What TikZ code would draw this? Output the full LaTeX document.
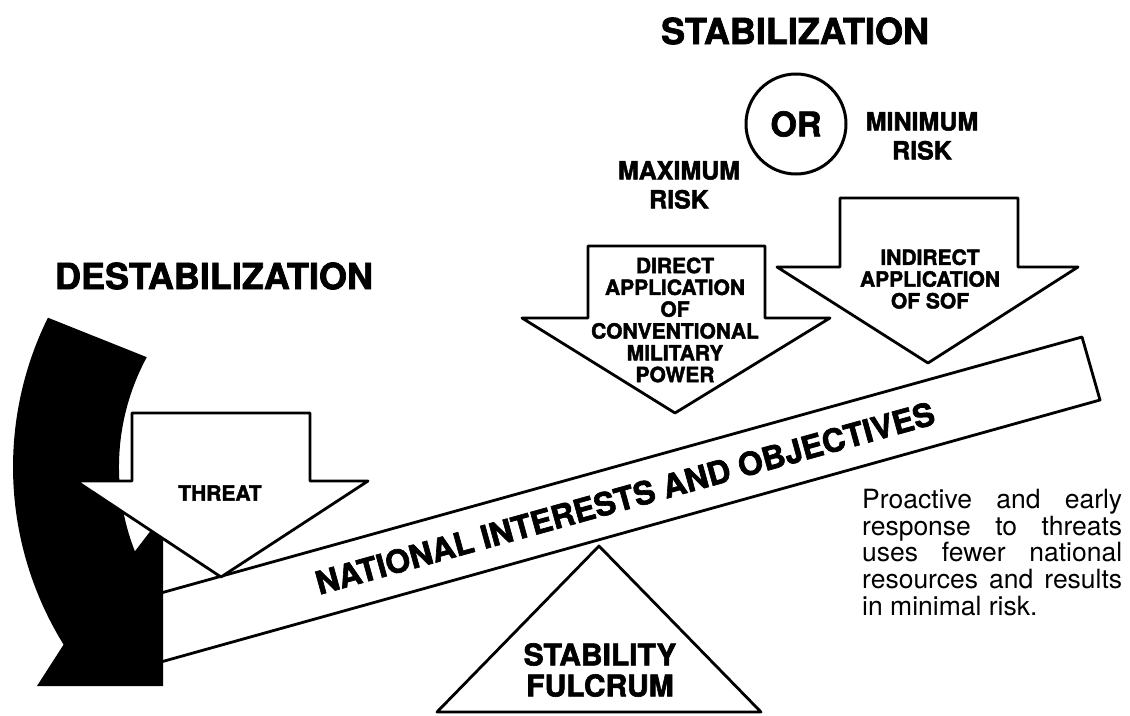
\documentclass[tikz,border=0pt]{standalone}
\usepackage{fontspec}
\setmainfont{TeX Gyre Heros}[BoldFeatures={FakeBold=2}]
\begin{document}
\begin{tikzpicture}[x=1pt,y=-1pt,
  outl/.style={draw=black, line width=2.8pt, fill=white, line join=round},
  big/.style={font=\bfseries\fontsize{36}{40}\selectfont, inner sep=0pt},
  arrowtxt/.style={font=\bfseries\fontsize{21}{21.8}\selectfont, align=center, inner sep=0pt},
  risk/.style={font=\bfseries\fontsize{25}{29}\selectfont, align=center, inner sep=0pt},
  fulc/.style={font=\bfseries\fontsize{30}{31}\selectfont, align=center, inner sep=0pt},
  beamtxt/.style={font=\bfseries\fontsize{32}{34}\selectfont, inner sep=0pt},
  para/.style={font=\fontsize{26.5}{26.7}\selectfont, align=left, inner sep=0pt}]
\useasboundingbox (0,0) rectangle (1130,715);
% fulcrum
\draw[outl] (599,546) -- (761,712) -- (437,712) -- cycle;
% beam
\draw[outl] (150,596) -- (1082,337) -- (1100,400) -- (150,665) -- cycle;
% black curved band
\fill[black] (47.9,317.7) arc[start angle=206.3, end angle=148.2, radius=337]
  -- (37,686) -- (163,686) -- (163,538) -- (166,534) -- (152,529) -- (134.9,551.3)
  arc[start angle=158.6, end angle=208.4, radius=231] -- cycle;
% threat arrow
\draw[outl] (132,413) -- (310,413) -- (310,481) -- (368,481) -- (221,577) -- (76,481) -- (132,481) -- cycle;
% direct arrow
\draw[outl] (588,246) -- (765,246) -- (765,318) -- (830,318) -- (675,413) -- (522,318) -- (588,318) -- cycle;
% indirect arrow
\draw[outl] (840,198) -- (1018,198) -- (1018,267) -- (1078,267) -- (928,363) -- (777,267) -- (840,267) -- cycle;
% texts
\node[big] (stab) at (795,31) {STABILIZATION};
\node[big] (destab) at (214,276) {DESTABILIZATION};
\node[circle, draw, line width=3pt, minimum size=100pt, inner sep=0pt,
  font=\bfseries\fontsize{34}{36}\selectfont] (or) at (796,124) {OR};
\node[risk] (minrisk) at (922,136) {MINIMUM\\RISK};
\node[risk] (maxrisk) at (679,185) {MAXIMUM\\RISK};
\node[arrowtxt] (direct) at (675,320) {DIRECT\\APPLICATION\\OF\\CONVENTIONAL\\MILITARY\\POWER};
\node[arrowtxt] (indirect) at (930,279) {INDIRECT\\APPLICATION\\OF SOF};
\node[arrowtxt] (threat) at (220,493) {THREAT};
\node[fulc] (fulcrum) at (600,670) {STABILITY\\FULCRUM};
\node[beamtxt, rotate=15.5] (nio) at (625,498) {NATIONAL INTERESTS AND OBJECTIVES};
\node[para, anchor=north west] (note) at (862,489) {%
\makebox[260pt][s]{Proactive and early}\\
\makebox[260pt][s]{response to threats}\\
\makebox[260pt][s]{uses fewer national}\\
\makebox[260pt][s]{resources and results}\\
in minimal risk.};
\end{tikzpicture}
\end{document}
